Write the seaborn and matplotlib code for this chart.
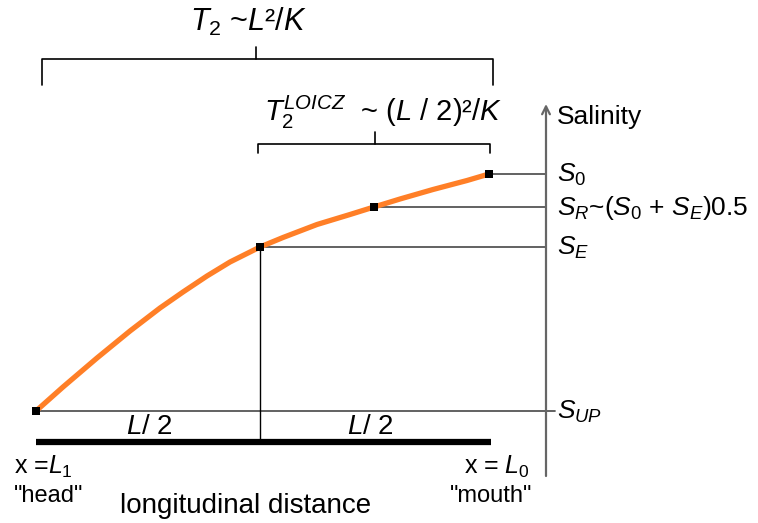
import matplotlib
matplotlib.use("Agg")
import matplotlib.pyplot as plt
import seaborn as sns
import pandas as pd
import numpy as np

sns.set_theme(style="white")
plt.rcParams['font.family'] = ['Liberation Sans', 'DejaVu Sans']
plt.rcParams['text.color'] = 'black'
plt.rcParams['mathtext.fontset'] = 'custom'
plt.rcParams['mathtext.rm'] = 'Liberation Sans'
plt.rcParams['mathtext.it'] = 'Liberation Sans:italic'
plt.rcParams['mathtext.bf'] = 'Liberation Sans:bold'

# Salinity profile along the estuary (schematic units: distance, salinity level)
distance = [36, 63, 97, 130, 160, 183, 207, 230, 250, 260, 283, 317, 350, 374, 400, 433, 467, 489]
salinity = [411, 387, 358, 331, 308, 292, 276, 262, 252, 247, 237.5, 224.5, 214.5, 207, 199, 189.5, 180.5, 174]

# Key points: head (S_UP), mid (S_E), 3/4 (S_R), mouth (S_0)
key_distance = [36, 260, 374, 489]
key_salinity = [411, 247, 207, 174]
key_labels = [r"$S_{UP}$", r"$S_E$", r"$S_R$~($S_{\mathit{0}}$ + $S_E$)0.5", r"$S_{\mathit{0}}$"]

curve = pd.DataFrame({"distance": distance, "salinity": salinity})
keys = pd.DataFrame({"distance": key_distance, "salinity": key_salinity})

fig = plt.figure(figsize=(7.58, 5.23), dpi=100)
ax = fig.add_axes([0, 0, 1, 1])

axis_x = 546

# reference lines from key points to salinity axis
for i, (kx, ky) in enumerate(zip(key_distance, key_salinity)):
    end = axis_x + 9 if i == 0 else axis_x
    ax.plot([kx, end], [ky, ky], color="#555555", lw=1.3, zorder=1)
    ax.text(axis_x + 11, ky + 1, key_labels[i], fontsize=19, va="center", ha="left")

# vertical divider at L/2
ax.plot([260, 260], [247, 442], color="black", lw=1.0, zorder=1)

# thick distance bar
ax.plot([36, 491], [442, 442], color="black", lw=4.5, solid_capstyle="butt", zorder=2)

# salinity axis with arrow
ax.annotate("", xy=(axis_x, 104), xytext=(axis_x, 476),
            arrowprops=dict(arrowstyle="->", color="#666666", lw=1.6,
                            mutation_scale=14, shrinkA=0, shrinkB=0))
ax.text(axis_x + 11, 117, "Salinity", fontsize=19, va="center", ha="left")

# curve and markers
sns.lineplot(data=curve, x="distance", y="salinity", ax=ax, color="#FF7F27",
             lw=3.8, sort=False, zorder=3)
sns.scatterplot(data=keys, x="distance", y="salinity", ax=ax, marker="s",
                color="black", s=36, edgecolor="none", zorder=4)
ax.set_xlim(0, 758)
ax.set_ylim(523, 0)
ax.axis("off")

# brackets
def bracket(x0, x1, y, ydrop, xc, ytop):
    ax.plot([x0, x0, x1, x1], [y + ydrop, y, y, y + ydrop], color="black", lw=1.2)
    ax.plot([xc, xc], [ytop, y], color="black", lw=1.2)

bracket(42, 493, 59, 26, 256, 47)
bracket(258, 490, 144, 9, 375, 132)

ax.text(248, 22, r"$T_2$ ~$L$²/$K$", fontsize=22, ha="center", va="center")
ax.text(383, 112, r"$T_2^{LOICZ}$  ~ ($L$ / 2)²/$K$", fontsize=21, ha="center", va="center")

ax.text(149, 427, r"$L$/ 2", fontsize=20, ha="center", va="center")
ax.text(370, 427, r"$L$/ 2", fontsize=20, ha="center", va="center")

ax.text(14, 467, r"x =$L_{\mathit{1}}$", fontsize=18, ha="left", va="center")
ax.text(530, 467, r"x = $L_{\mathit{0}}$", fontsize=18, ha="right", va="center")
ax.text(49, 496, '"head"', fontsize=17, ha="center", va="center")
ax.text(491, 496, '"mouth"', fontsize=17, ha="center", va="center")
ax.text(246, 506, "longitudinal distance", fontsize=20, ha="center", va="center")

fig.savefig("out.png", dpi=100, facecolor="white")
